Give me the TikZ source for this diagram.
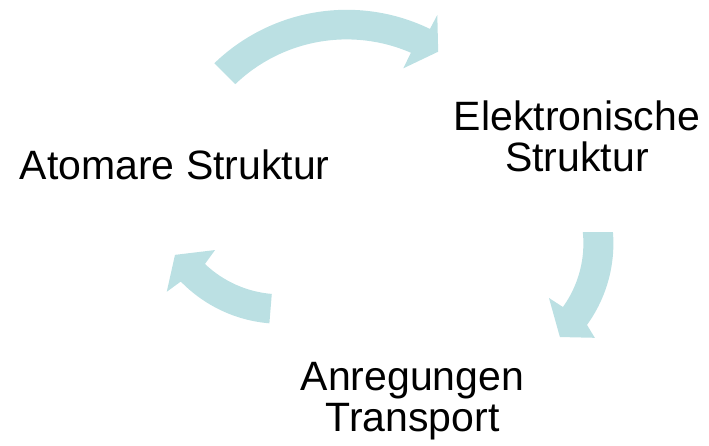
\documentclass[tikz,border=0pt]{standalone}
\usepackage{fontspec}
\setmainfont{Liberation Sans}
\usetikzlibrary{calc}
\definecolor{arrowblue}{RGB}{187,224,227}

\begin{document}
\begin{tikzpicture}[x=1pt,y=1pt,
	cyclearrow/.style={fill=arrowblue},
	stage/.style={inner sep=0pt,align=center,font=\fontsize{41}{41}\selectfont}]
	\useasboundingbox (0,0) rectangle (709,-446);
	% centres of the three arrow arcs
	\coordinate (c1) at (346.7,-200.4);
	\coordinate (c2) at (474.4,-243.4);
	\coordinate (c3) at (280.8,-184.3);
	% stages (base = baseline of the last line)
	\node[stage,anchor=base] (atom) at (174.7,-179.3) {Atomare Struktur};
	\node[stage,anchor=base] (elek) at (577,-171.3) {Elektronische\\Struktur};
	\node[stage,anchor=base] (anr) at (412.5,-431.5) {Anregungen\\Transport};
	% arrows
	\fill[cyclearrow] ($(c1)+(134:190.6)$) arc[start angle=134,end angle=64.1,radius=190.6]
		-- ($(c1)+(63.96:206.4)$) -- ($(c1)+(58.4:174.6)$) -- ($(c1)+(66.8:143.7)$)
		-- ($(c1)+(66.5:161)$) arc[start angle=66.5,end angle=133.8,radius=161] -- cycle;
	\fill[cyclearrow] ($(c2)+(4.7:139)$) arc[start angle=4.7,end angle=-35.9,radius=139]
		-- ($(c2)+(-38.1:153)$) -- ($(c2)+(-47.6:126.8)$) -- ($(c2)+(-36.2:92.4)$)
		-- ($(c2)+(-35.7:109)$) arc[start angle=-35.7,end angle=5.9,radius=109] -- cycle;
	\fill[cyclearrow] ($(c3)+(265.3:139.5)$) arc[start angle=265.3,end angle=224.2,radius=139.5]
		-- ($(c3)+(223.3:156.7)$) -- ($(c3)+(213.7:127.2)$) -- ($(c3)+(225:93)$)
		-- ($(c3)+(226.4:110)$) arc[start angle=226.4,end angle=265.3,radius=110] -- cycle;
\end{tikzpicture}
\end{document}
